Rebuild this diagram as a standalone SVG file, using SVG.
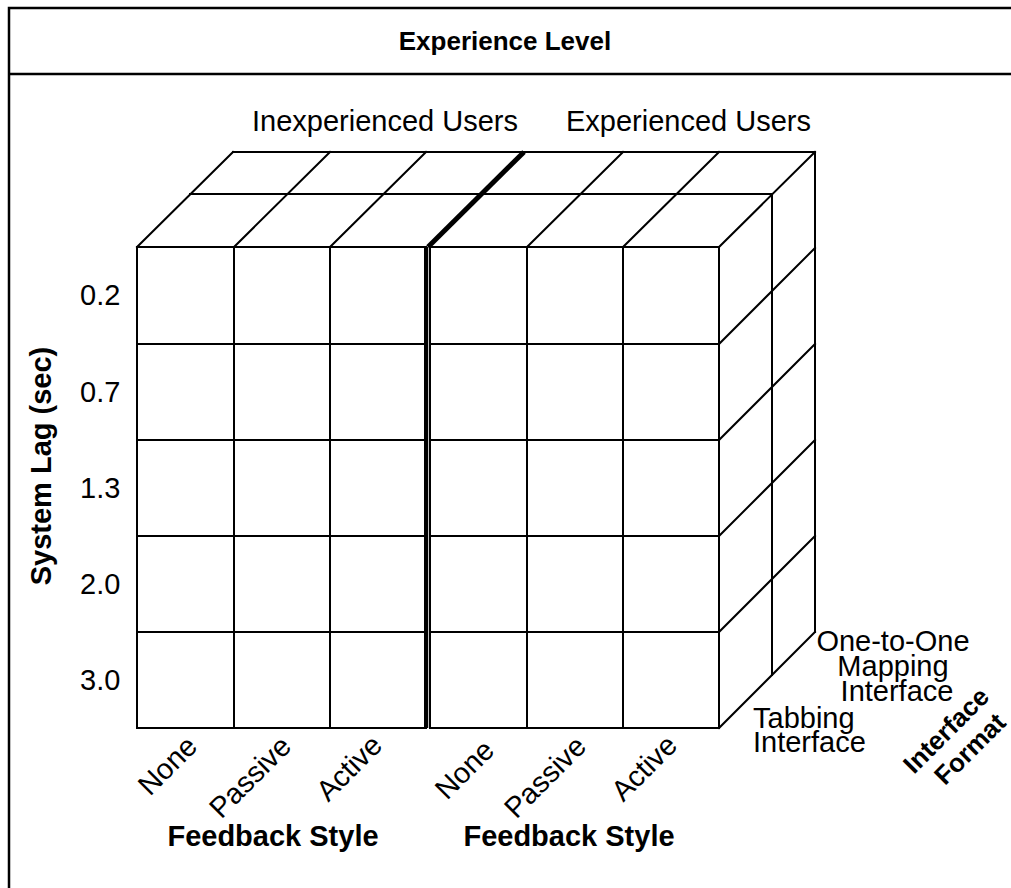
<svg xmlns="http://www.w3.org/2000/svg" width="1011" height="888" viewBox="0 0 1011 888">
  <style>
    .ln { stroke: #000; stroke-width: 2; fill: none; stroke-linecap: square; }
    .frame { stroke: #000; stroke-width: 2.5; fill: none; }
    .t { font-family: "Liberation Sans", Arial, sans-serif; font-size: 29px; fill: #000; }
    .b { font-weight: bold; }
    .h { font-family: "Liberation Sans", Arial, sans-serif; font-size: 26px; font-weight: bold; fill: #000; }
  </style>
  <rect width="1011" height="888" fill="#fff"/>

  <!-- outer frame and header band -->
  <g id="frame">
    <path class="frame" d="M9 888 V8 H1011"/>
    <line class="frame" x1="9" y1="74" x2="1011" y2="74" stroke-width="3"/>
    <text class="h" x="505" y="50" text-anchor="middle">Experience Level</text>
  </g>

  <!-- column group headings -->
  <g id="group-labels">
    <text class="t" x="252" y="131">Inexperienced Users</text>
    <text class="t" x="566" y="131">Experienced Users</text>
  </g>

  <!-- cube: front face, top face, right face -->
  <g id="cube">
    <g id="front-left">
      <rect class="ln" x="137" y="247" width="289" height="481"/>
      <path class="ln" d="M234 247 V728 M330 247 V728 M137 344 H426 M137 440 H426 M137 536 H426 M137 632 H426"/>
    </g>
    <g id="front-right">
      <rect class="ln" x="430" y="247" width="289" height="481"/>
      <path class="ln" d="M527 247 V728 M623 247 V728 M430 344 H719 M430 440 H719 M430 536 H719 M430 632 H719"/>
    </g>
    <g id="divider">
      <line x1="426" y1="247" x2="426" y2="728" stroke="#000" stroke-width="4"/>
      <line x1="429.5" y1="247" x2="429.5" y2="728" stroke="#000" stroke-width="1.5"/>
      <line x1="428" y1="247" x2="524" y2="152" stroke="#000" stroke-width="5"/>
    </g>
    <g id="top-face">
      <path class="ln" d="M233 152 H815 M190 194 H772"/>
      <path class="ln" d="M137 247 L233 152 M234 247 L330 152 M330 247 L426 152 M527 247 L623 152 M623 247 L719 152 M719 247 L815 152"/>
    </g>
    <g id="side-face">
      <path class="ln" d="M772 194 V675 M815 152 V632"/>
      <path class="ln" d="M719 344 L815 248 M719 440 L815 344 M719 536 L815 440 M719 632 L815 536 M719 728 L815 632"/>
    </g>
  </g>

  <!-- system lag axis -->
  <g id="lag-axis">
    <text class="t b" transform="translate(51,466) rotate(-90)" text-anchor="middle" font-size="30">System Lag (sec)</text>
    <text class="t" x="80" y="305">0.2</text>
    <text class="t" x="80" y="402">0.7</text>
    <text class="t" x="80" y="498">1.3</text>
    <text class="t" x="80" y="594">2.0</text>
    <text class="t" x="80" y="690">3.0</text>
  </g>

  <!-- feedback style axis -->
  <g id="feedback-left">
    <text class="t" transform="translate(199,748) rotate(-45)" text-anchor="end">None</text>
    <text class="t" transform="translate(293,748) rotate(-45)" text-anchor="end">Passive</text>
    <text class="t" transform="translate(384,747) rotate(-45)" text-anchor="end">Active</text>
    <text class="t b" x="273" y="846" text-anchor="middle">Feedback Style</text>
  </g>
  <g id="feedback-right">
    <text class="t" transform="translate(496,752) rotate(-45)" text-anchor="end">None</text>
    <text class="t" transform="translate(588,748) rotate(-45)" text-anchor="end">Passive</text>
    <text class="t" transform="translate(679,747) rotate(-45)" text-anchor="end">Active</text>
    <text class="t b" x="569" y="846" text-anchor="middle">Feedback Style</text>
  </g>

  <!-- interface format axis -->
  <g id="interface-axis">
    <text class="t" x="897" text-anchor="middle" font-size="27">
      <tspan x="897" y="651">One-to-One</tspan>
      <tspan x="897" y="676">Mapping</tspan>
      <tspan x="897" y="701">Interface</tspan>
    </text>
    <text class="t" font-size="27">
      <tspan x="753" y="728">Tabbing</tspan>
      <tspan x="753" y="752">Interface</tspan>
    </text>
    <text class="h" transform="translate(955,734) rotate(-45)" text-anchor="middle" font-size="27">
      <tspan x="0" y="0">Interface</tspan>
      <tspan x="0" y="30">Format</tspan>
    </text>
  </g>
</svg>
